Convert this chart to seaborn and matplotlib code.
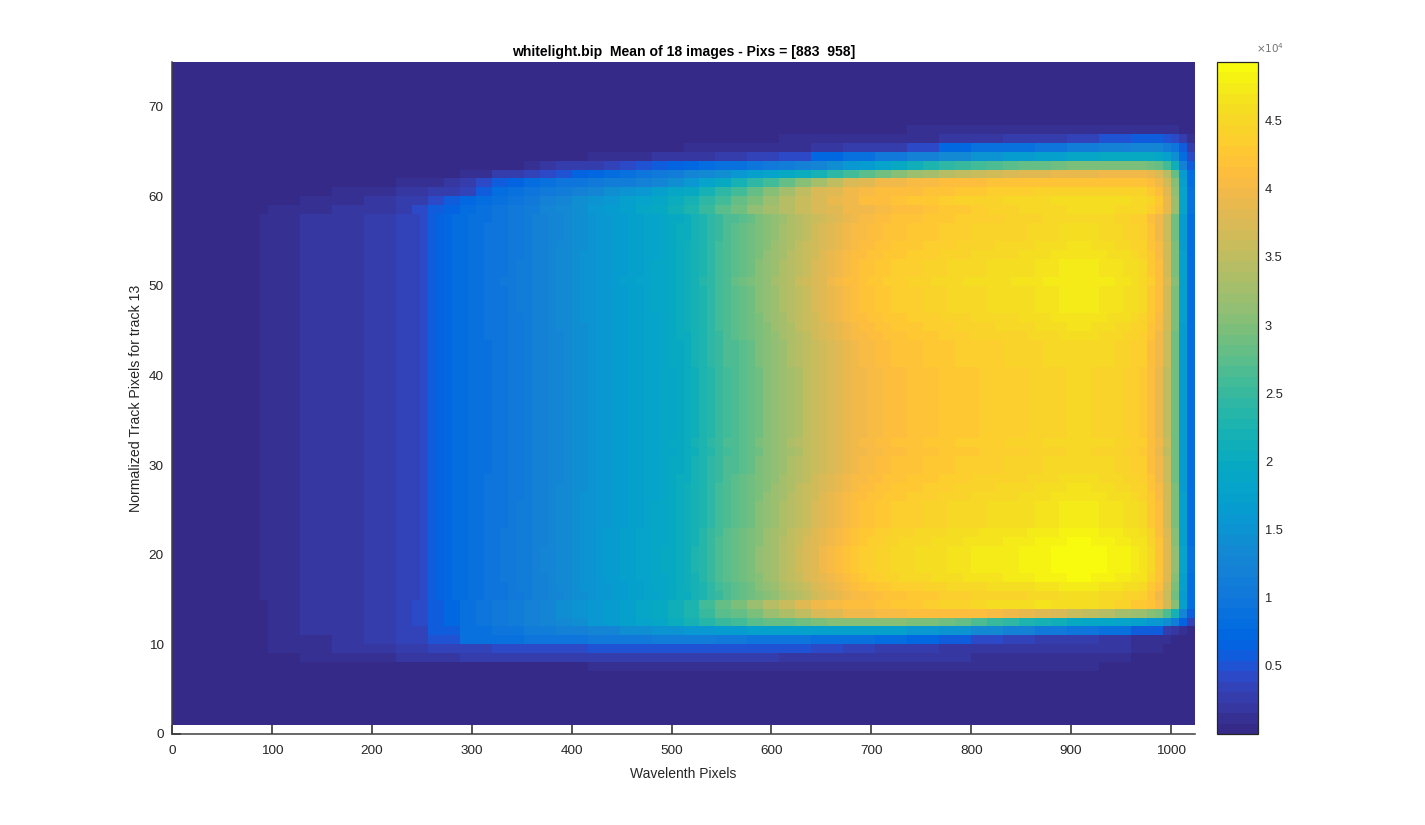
import numpy as np
import pandas as pd
import matplotlib
matplotlib.use("Agg")
import matplotlib.pyplot as plt
from matplotlib.colors import ListedColormap
import seaborn as sns

# all intensities in units of 1e4 counts
background = 0.02
col_step = 8      # wavelength pixels per column of the spectrum
n_tracks = 75

# mean spectrum of the central tracks, 8 px columns, starting at px 88
spectrum = [
    .10, .10, .10, .10, .10, .17, .17, .17, .17, .22, .22, .22, .22, .27, .27, .27, .27,
    .33, .33, .38, .45, .55, .68, .76, .80, .83, .86, .89, .93, .97, 1.0, 1.04, 1.08,
    1.12, 1.17, 1.22, 1.27, 1.32, 1.37, 1.42, 1.47, 1.52, 1.57, 1.61, 1.65, 1.69, 1.73,
    1.77, 1.81, 1.85, 1.90, 1.96, 2.03, 2.10, 2.20, 2.30, 2.45, 2.58, 2.68, 2.76, 2.84,
    2.92, 3.02, 3.12, 3.22, 3.32, 3.42, 3.52, 3.62, 3.72, 3.82, 3.90, 3.98, 4.05, 4.12,
    4.18, 4.22, 4.26, 4.29, 4.32, 4.35, 4.37, 4.39, 4.41, 4.43, 4.45, 4.47, 4.49, 4.51,
    4.53, 4.54, 4.55, 4.56, 4.57, 4.58, 4.60, 4.62, 4.64, 4.66, 4.68, 4.70, 4.72, 4.72,
    4.72, 4.70, 4.68, 4.66, 4.63, 4.60, 4.55, 4.50, 4.40, 4.30, 4.20, 4.15, 4.10, 4.10,
]
# drop at the red end of the detector, last 8 columns
right_falloff = [1.0, 1.0, .98, .95, .88, .72, .42, .20]

# brightness of tracks 15..57 relative to the spectrum, at the bright end
core_rows = list(range(15, 58))
core_scale = [
    .97, 1.0, 1.03, 1.04, 1.04, 1.04, 1.03, 1.02, 1.0, 1.0, 1.0, .99, .98, .97, .96,
    .96, .95, .96, .95, .95, .95, .95, .95, .95, .95, .95, .96, .96, .96, .97, .98,
    .99, 1.0, 1.0, 1.0, 1.01, 1.0, 1.0, .99, .98, .97, .97, .96,
]

# edge tracks, lists end at the last column (left side is background)
# 32 px blocks
row_7 = [.07] * 9 + [.10] * 12 + [.09] * 4 + [.02] * 3
row_8 = [.07, .08, .15, .15, .17, .22, .24, .25, .25, .26, .27, .27, .25, .28, .28, .28, .20,
         .18, .17, .17, .16, .16, .15, .15, .14, .14, .10, .02, .02]
row_9 = [.09, .12, .18, .22, .27, .33, .38, .42, .44, .46, .47, .50, .50, .52, .52, .50, .48,
         .42, .33, .30, .27, .22, .22, .20, .19, .18, .17, .10, .02]
row_10 = [.10, .15, .20, .27, .35, .50, .85, .90, .95, 1.0, 1.03, 1.05, 1.1, 1.1, 1.05, 1.0,
          .95, .90, .85, .80, .70, .55, .45, .35, .30, .25, .20, .15, .10]
row_11 = [.10, .17, .22, .27, .33, .55, .85, 1.0, 1.1, 1.2, 1.3, 1.4, 1.5, 1.6, 1.65, 1.7,
          1.75, 1.75, 1.75, 1.7, 1.6, 1.5, 1.35, 1.2, 1.05, .95, .85, .60, .30]
row_64 = [.12, .15, .18, .22, .28, .33, .45, .75, .90, 1.05, 1.2, 1.35, 1.5, 1.65, 1.75, 1.85,
          1.95, 2.0, 2.0]
row_65 = [.08, .08, .10, .12, .18, .25, .30, .45, .70, .85, .92, 1.0, 1.1, 1.2, 1.3, 1.3]
row_66 = [.10, .10, .10, .15, .15, .20, .20, .25, .30, .38, .50, .60, .60]
row_67 = [.08, .10, .10, .10, .10, .12, .12, .12, .12]
# 16 px blocks
row_12 = [.10, .10, .17, .17, .22, .22, .27, .27, .33, .43, .55, .70, .85, .95, 1.05, 1.12, 1.2,
          1.28, 1.35, 1.45, 1.55, 1.62, 1.7, 1.8, 1.9, 2.05, 2.2, 2.35, 2.5, 2.6, 2.7, 2.78, 2.85,
          2.92, 3.0, 3.02, 3.05, 3.05, 3.05, 3.02, 3.0, 2.95, 2.9, 2.78, 2.65, 2.52, 2.4, 2.3, 2.2,
          2.1, 2.0, 1.92, 1.85, 1.78, 1.7, 1.65, 1.6, 1.6]
row_13 = [.10, .10, .17, .17, .22, .22, .27, .27, .33, .45, .60, .72, .85, .95, 1.05, 1.12, 1.2,
          1.3, 1.4, 1.5, 1.6, 1.67, 1.75, 1.85, 1.95, 2.12, 2.3, 2.5, 2.7, 2.85, 3.0, 3.17, 3.35,
          3.52, 3.7, 3.82, 3.95, 4.0, 4.05, 4.08, 4.1, 4.12, 4.15, 4.12, 4.1, 4.05, 4.0, 3.9, 3.8,
          3.7, 3.6, 3.5, 3.4, 3.3, 3.2, 3.1, 3.0, 3.0]
row_14 = [.10, .10, .17, .17, .22, .22, .27, .27, .33, .45, .60, .72, .85, .95, 1.05, 1.12, 1.2,
          1.3, 1.4, 1.5, 1.6, 1.67, 1.75, 1.85, 1.95, 2.12, 2.3, 2.55, 2.8, 3.0, 3.2, 3.4, 3.6,
          3.78, 3.95, 4.02, 4.1, 4.15, 4.2, 4.25, 4.3, 4.35, 4.4, 4.45, 4.5, 4.55, 4.6, 4.62, 4.65,
          4.62, 4.6, 4.55, 4.5, 4.4, 4.3, 4.25, 4.2, 4.2]
row_58 = [.10, .10, .10, .10, .17, .17, .22, .22, .30, .40, .55, .68, .80, .88, .95, 1.05, 1.15,
          1.25, 1.35, 1.45, 1.55, 1.65, 1.75, 1.85, 1.95, 2.12, 2.3, 2.5, 2.7, 2.9, 3.1, 3.27, 3.45,
          3.6, 3.75, 3.85, 3.95, 4.0, 4.05, 4.1, 4.15, 4.2, 4.25, 4.3, 4.35, 4.4, 4.45, 4.48, 4.5,
          4.52, 4.55, 4.55, 4.55, 4.52, 4.5, 4.45, 4.4, 4.4]
row_59 = [.10, .10, .12, .12, .18, .18, .25, .25, .40, .55, .70, .80, .90, .97, 1.05, 1.17, 1.3,
          1.4, 1.5, 1.6, 1.7, 1.8, 1.9, 2.05, 2.2, 2.4, 2.6, 2.8, 3.0, 3.2, 3.45, 3.6, 3.75, 3.9,
          4.0, 4.1, 4.15, 4.2, 4.25, 4.3, 4.35, 4.4, 4.45, 4.45, 4.5, 4.5, 4.5, 4.55, 4.55, 4.55,
          4.55, 4.55, 4.5, 4.5, 4.45, 4.4]
row_60 = [.10, .10, .13, .13, .17, .20, .25, .25, .35, .55, .80, .88, .95, 1.03, 1.1, 1.2, 1.3,
          1.4, 1.5, 1.6, 1.7, 1.85, 2.0, 2.2, 2.4, 2.6, 2.8, 3.05, 3.3, 3.5, 3.7, 3.85, 3.95, 4.05,
          4.1, 4.12, 4.15, 4.18, 4.2, 4.25, 4.3, 4.32, 4.35, 4.38, 4.4, 4.4, 4.4, 4.4, 4.4, 4.4,
          4.4, 4.35, 4.3, 4.3]
row_61 = [.10, .10, .15, .18, .25, .40, .55, .68, .80, .88, .95, 1.0, 1.05, 1.1, 1.15, 1.22, 1.3,
          1.45, 1.6, 1.8, 2.0, 2.2, 2.4, 2.6, 2.8, 3.05, 3.3, 3.5, 3.7, 3.85, 3.95, 4.0, 4.05, 4.08,
          4.1, 4.12, 4.15, 4.18, 4.2, 4.2, 4.2, 4.2, 4.2, 4.2, 4.2, 4.2, 4.2, 4.2, 4.2, 4.2]
row_62 = [.10, .15, .25, .30, .35, .42, .48, .62, .75, .82, .90, .98, 1.05, 1.15, 1.25, 1.35, 1.45,
          1.57, 1.7, 1.82, 1.95, 2.07, 2.2, 2.4, 2.6, 2.75, 2.9, 3.05, 3.2, 3.3, 3.4, 3.5, 3.6, 3.68,
          3.75, 3.8, 3.85, 3.88, 3.9, 3.92, 3.95, 3.95, 3.95, 3.95, 3.9, 3.9]
row_63 = [.15, .20, .25, .28, .30, .38, .45, .50, .55, .63, .72, .78, .85, .92, 1.0, 1.05, 1.1,
          1.2, 1.3, 1.42, 1.55, 1.67, 1.8, 1.95, 2.1, 2.25, 2.4, 2.5, 2.6, 2.68, 2.75, 2.8, 2.85,
          2.9, 2.95, 2.98, 3.0, 3.0, 3.0, 2.95, 2.9, 2.9]

coarse_rows = {7: row_7, 8: row_8, 9: row_9, 10: row_10, 11: row_11,
               64: row_64, 65: row_65, 66: row_66, 67: row_67}
fine_rows = {12: row_12, 13: row_13, 14: row_14, 58: row_58, 59: row_59, 60: row_60,
             61: row_61, 62: row_62, 63: row_63}

x_ticks = [0, 100, 200, 300, 400, 500, 600, 700, 800, 900, 1000]
y_ticks = [0, 10, 20, 30, 40, 50, 60, 70]
cbar_ticks = [0.5, 1, 1.5, 2, 2.5, 3, 3.5, 4, 4.5]
cbar_labels = ["0.5", "1", "1.5", "2", "2.5", "3", "3.5", "4", "4.5"]

# parula, 64 levels
parula = [
    (.2081, .1663, .5292), (.2116, .1898, .5777), (.2123, .2138, .6270), (.2081, .2386, .6771),
    (.1959, .2645, .7279), (.1707, .2919, .7792), (.1253, .3242, .8303), (.0591, .3598, .8683),
    (.0117, .3875, .8820), (.0060, .4086, .8828), (.0165, .4266, .8786), (.0329, .4430, .8720),
    (.0498, .4586, .8641), (.0629, .4737, .8554), (.0723, .4887, .8467), (.0779, .5040, .8384),
    (.0793, .5200, .8312), (.0749, .5375, .8263), (.0641, .5570, .8240), (.0488, .5772, .8228),
    (.0343, .5966, .8199), (.0265, .6137, .8135), (.0239, .6287, .8038), (.0231, .6418, .7913),
    (.0228, .6535, .7768), (.0267, .6642, .7607), (.0384, .6743, .7436), (.0590, .6838, .7254),
    (.0843, .6928, .7062), (.1133, .7015, .6859), (.1453, .7098, .6646), (.1801, .7177, .6424),
    (.2178, .7250, .6193), (.2586, .7317, .5954), (.3022, .7376, .5712), (.3482, .7424, .5473),
    (.3953, .7459, .5244), (.4420, .7481, .5033), (.4871, .7491, .4840), (.5300, .7491, .4661),
    (.5709, .7485, .4494), (.6099, .7473, .4337), (.6473, .7456, .4188), (.6834, .7435, .4044),
    (.7184, .7411, .3905), (.7525, .7384, .3768), (.7858, .7356, .3633), (.8185, .7327, .3498),
    (.8507, .7299, .3360), (.8824, .7274, .3217), (.9139, .7258, .3063), (.9450, .7261, .2886),
    (.9739, .7314, .2666), (.9938, .7455, .2403), (.9990, .7653, .2164), (.9955, .7861, .1967),
    (.9880, .8066, .1794), (.9789, .8271, .1633), (.9697, .8481, .1475), (.9626, .8705, .1309),
    (.9589, .8949, .1132), (.9598, .9218, .0948), (.9661, .9514, .0755), (.9763, .9831, .0538),
]


def build_image():
    """Assemble tracks x wavelength table, track 0 stays empty (white strip)"""
    full_spectrum = np.array([background] * 11 + spectrum)
    n_cols = len(full_spectrum)
    falloff = np.ones(n_cols)
    falloff[-len(right_falloff):] = right_falloff

    image = np.full((n_tracks, n_cols), background)
    image[0, :] = np.nan
    # the track to track differences only show at the bright end
    weight = full_spectrum / full_spectrum.max()
    for row, scale in zip(core_rows, core_scale):
        image[row] = full_spectrum * (1 + (scale - 1) * weight)
    for rows, block in [(coarse_rows, 4), (fine_rows, 2)]:
        for row, values in rows.items():
            blocks = [background] * (n_cols // block - len(values)) + values
            image[row] = np.repeat(blocks, block)
    image[1:] = np.maximum(image[1:] * falloff, background)
    return pd.DataFrame(image)


sns.set_theme(style="white")
plt.rcParams['font.family'] = ['Liberation Sans', 'DejaVu Sans']

df = build_image()

fig = plt.figure(figsize=(14.25, 8.25), dpi=100)
ax = fig.add_axes([172 / 1425, 91 / 825, 1023 / 1425, 672 / 825])
cax = fig.add_axes([1217 / 1425, 91 / 825, 41 / 1425, 672 / 825])

sns.heatmap(df, ax=ax, cbar_ax=cax, cmap=ListedColormap(parula), vmin=0.0, vmax=4.93,
            xticklabels=False, yticklabels=False, rasterized=True)

dark = '#262626'
ax.set_xlim(0, df.shape[1])
ax.set_ylim(0, n_tracks)
ax.set_axisbelow(True)
ax.set_xticks([t / col_step for t in x_ticks])
ax.set_xticklabels([str(t) for t in x_ticks])
ax.set_yticks(y_ticks)
ax.set_yticklabels([str(t) for t in y_ticks], rotation=0)
ax.tick_params(axis='both', direction='in', length=6.5, width=1.1, color=dark,
               labelcolor=dark, labelsize=9.7, bottom=True, left=True)
ax.tick_params(axis='x', pad=8)
ax.tick_params(axis='y', pad=6)
for side in ['left', 'bottom']:
    ax.spines[side].set_visible(True)
    ax.spines[side].set_color('#404040')
    ax.spines[side].set_linewidth(1.1)

ax.set_xlabel("Wavelenth Pixels", fontsize=10, color=dark, labelpad=7)
ax.set_ylabel("Normalized Track Pixels for track 13", fontsize=10.2, color=dark, labelpad=4)
ax.set_title("whitelight.bip  Mean of 18 images - Pixs = [883  958]", fontsize=10.1,
             fontweight='bold', color='black', pad=4)

cbar = ax.collections[0].colorbar
cbar.set_ticks(cbar_ticks)
cbar.set_ticklabels(cbar_labels)
cbar.ax.tick_params(axis='y', direction='in', length=5, width=0.9, color=dark,
                    labelcolor=dark, labelsize=9.3, pad=5)
cbar.outline.set_visible(True)
cbar.outline.set_edgecolor(dark)
cbar.outline.set_linewidth(0.9)
cax.text(1.29, 1.01, r"$\times10^{4}$", transform=cax.transAxes, ha='center', va='bottom',
         fontsize=7.5, color='#707070')

fig.savefig("out.png", dpi=100)
